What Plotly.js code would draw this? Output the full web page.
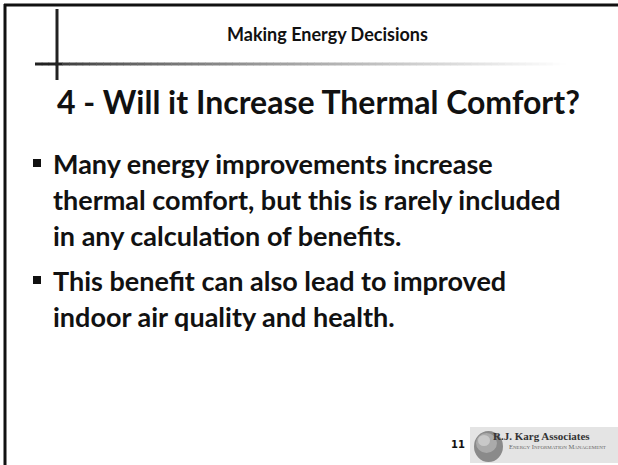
<!DOCTYPE html>
<html>
<head>
<meta charset="utf-8">
<script src="https://cdn.plot.ly/plotly-3.0.1.min.js"></script>
<style>html,body{margin:0;padding:0;background:#fff;}#chart{width:618px;height:465px;}</style>
</head>
<body>
<div id="chart"></div>
<script>
var headerText = "Making Energy Decisions";
var titleText = "4 - Will it Increase Thermal Comfort?";
var bullet1Lines = ["Many energy improvements increase", "thermal comfort, but this is rarely included", "in any calculation of benefits."];
var bullet2Lines = ["This benefit can also lead to improved", "indoor air quality and health."];
var pageNumber = "11";
var logoName = "R.J. Karg Associates";
var logoTagline = "E<span style='font-size:5px'>NERGY</span> I<span style='font-size:5px'>NFORMATION</span> M<span style='font-size:5px'>ANAGEMENT</span>";

var FONT = "Lato, 'Open Sans', sans-serif";
var shapes = [];
var annotations = [];

// slide border (top and left)
shapes.push({type:'line', x0:4, x1:618, y0:5, y1:5, line:{color:'#111', width:3}});
shapes.push({type:'line', x0:5, x1:5, y0:4, y1:465, line:{color:'#111', width:3}});
// vertical accent
shapes.push({type:'line', x0:57, x1:57, y0:9, y1:80, line:{color:'#222', width:3}});
// gradient horizontal rule
var gx0 = 35, gx1 = 580, nSeg = 80;
for (var i = 0; i < nSeg; i++) {
  var a = gx0 + (gx1 - gx0) * i / nSeg;
  var b = gx0 + (gx1 - gx0) * (i + 1) / nSeg + 0.5;
  var c;
  if (a < 60) c = 34; else c = Math.round(60 + 200 * Math.pow((a - 60) / (gx1 - 60), 0.8));
  if (c > 255) c = 255;
  shapes.push({type:'line', x0:a, x1:b, y0:64, y1:64, line:{color:'rgb('+c+','+c+','+c+')', width:3}});
}

// header
annotations.push({x:327, y:34, text:'<b>'+headerText+'</b>', showarrow:false, font:{family:FONT, size:18, color:'#111'}, xanchor:'center', yanchor:'middle'});
// title
annotations.push({x:318, y:101, text:'<b>'+titleText+'</b>', showarrow:false, font:{family:FONT, size:32, color:'#111'}, xanchor:'center', yanchor:'middle'});

// bullets
var lineY1 = [163, 199, 235];
var lineY2 = [280, 316];
function addBullet(lines, ys) {
  shapes.push({type:'rect', x0:33, x1:41, y0:ys[0]-4, y1:ys[0]+4, fillcolor:'#111', line:{width:0}});
  for (var k = 0; k < lines.length; k++) {
    annotations.push({x:51, y:ys[k], text:'<b>'+lines[k]+'</b>', showarrow:false, font:{family:FONT, size:27, color:'#111'}, xanchor:'left', yanchor:'middle'});
  }
}
addBullet(bullet1Lines, lineY1);
addBullet(bullet2Lines, lineY2);

// footer: page number and logo
annotations.push({x:458, y:444, text:'<b>'+pageNumber+'</b>', showarrow:false, font:{family:"'DejaVu Sans', sans-serif", size:10, color:'#111'}, xanchor:'center', yanchor:'middle'});
shapes.push({type:'rect', x0:470, x1:618, y0:427, y1:463, fillcolor:'#e4e4e4', line:{width:0}});
shapes.push({type:'circle', x0:474, x1:503, y0:431, y1:462, fillcolor:'#8a8a8a', line:{width:0}});
shapes.push({type:'circle', x0:476, x1:497, y0:433, y1:453, fillcolor:'#aaaaaa', line:{width:0}});
shapes.push({type:'circle', x0:478, x1:490, y0:435, y1:446, fillcolor:'#c8c8c8', line:{width:0}});
annotations.push({x:491, y:436, text:'<b>'+logoName+'</b>', showarrow:false, font:{family:"'Liberation Serif', serif", size:11, color:'#333'}, xanchor:'left', yanchor:'middle'});
annotations.push({x:507, y:446, text:logoTagline, showarrow:false, font:{family:"'Liberation Serif', serif", size:6.5, color:'#666'}, xanchor:'left', yanchor:'middle'});

var layout = {
  width:618, height:465,
  margin:{l:0, r:0, t:0, b:0, pad:0},
  paper_bgcolor:'#fff', plot_bgcolor:'#fff',
  xaxis:{range:[0,618], visible:false, fixedrange:true},
  yaxis:{range:[465,0], visible:false, fixedrange:true},
  showlegend:false,
  shapes:shapes,
  annotations:annotations
};
Plotly.newPlot('chart', [{x:[], y:[], type:'scatter', mode:'markers', hoverinfo:'skip'}], layout, {staticPlot:true, displayModeBar:false});
</script>
</body>
</html>
